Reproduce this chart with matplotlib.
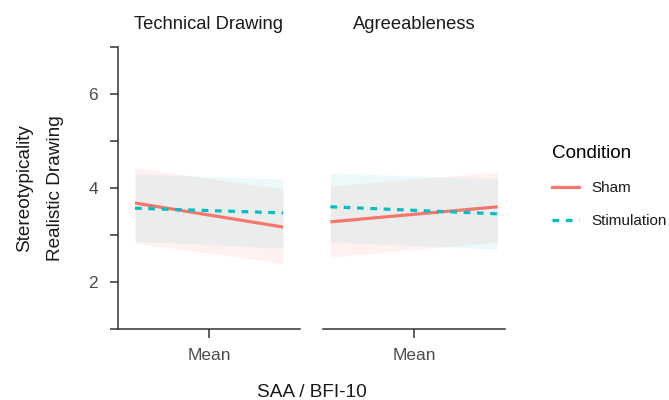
import matplotlib.pyplot as plt
from matplotlib.lines import Line2D

plt.rcParams['font.family'] = ['Liberation Sans', 'DejaVu Sans']
plt.rcParams['lines.scale_dashes'] = False

# facets and conditions
panels = ['Technical Drawing', 'Agreeableness']
conditions = ['Sham', 'Stimulation']
colors = ['#F8766D', '#00BFC4']

# x span of the fitted lines per panel (mean -/+ spread)
x_span = [[-1.0, 1.0], [-1.13, 1.13]]

# fitted values and confidence bands, [panel][left, right]
sham_fit = [[3.68, 3.17], [3.28, 3.60]]
sham_low = [[2.83, 2.40], [2.53, 2.85]]
sham_high = [[4.43, 3.98], [4.04, 4.34]]
stim_fit = [[3.57, 3.47], [3.60, 3.45]]
stim_low = [[2.87, 2.72], [2.85, 2.70]]
stim_high = [[4.30, 4.19], [4.32, 4.19]]

y_ticks = [1, 2, 3, 4, 5, 6, 7]
y_labels = ['', '2', '', '4', '', '6', '']

fig = plt.figure(figsize=(6.69, 4), dpi=100)
W, H = 669, 400
lefts = [118, 323]
axes = [fig.add_axes([l / W, 71 / H, 182 / W, 282 / H]) for l in lefts]

ink = '#333333'
for i, ax in enumerate(axes):
    xs = x_span[i]
    ax.fill_between(xs, sham_low[i], sham_high[i], color=colors[0], alpha=0.1, lw=0)
    ax.fill_between(xs, stim_low[i], stim_high[i], color=colors[1], alpha=0.08, lw=0)
    ax.plot(xs, sham_fit[i], color=colors[0], lw=2.3, solid_capstyle='butt')
    ax.plot(xs, stim_fit[i], color=colors[1], lw=2.3, dashes=(4.8, 4.8))

    ax.set_xlim(-1.23, 1.23)
    ax.set_ylim(1, 7)
    ax.set_xticks([0])
    ax.set_xticklabels(['Mean'])
    ax.tick_params(axis='x', length=6.5, width=1.1, color=ink, pad=7,
                   labelsize=12.5, labelcolor='#4d4d4d')
    for s in ['top', 'right']:
        ax.spines[s].set_visible(False)
    ax.spines['bottom'].set_color(ink)
    ax.spines['bottom'].set_linewidth(1.1)
    ax.set_facecolor('none')
    ax.text(0.5, 1.064, panels[i], transform=ax.transAxes, ha='center',
            va='baseline', fontsize=13.2, color='#1a1a1a')

axes[0].set_yticks(y_ticks)
axes[0].set_yticklabels(y_labels)
axes[0].tick_params(axis='y', length=5.8, width=1.1, color=ink, pad=8.6,
                    labelsize=12.5, labelcolor='#4d4d4d')
axes[0].spines['left'].set_color(ink)
axes[0].spines['left'].set_linewidth(1.1)
axes[1].spines['left'].set_visible(False)
axes[1].set_yticks([])

fig.text(311.5 / W, 1 - 397 / H, 'SAA / BFI-10', ha='center', va='baseline',
         fontsize=13.7, color='#1a1a1a')
fig.text(40 / W, 0.53, 'Stereotypicality\nRealistic Drawing', rotation=90,
         ha='center', va='center', multialignment='center', linespacing=2.1,
         fontsize=13.7, color='#1a1a1a')

handles = [Line2D([], [], color=colors[0], lw=2.3),
           Line2D([], [], color=colors[1], lw=2.3, dashes=(4.8, 4.8))]
leg = fig.legend(handles, conditions, title='Condition', loc='upper left',
                 bbox_to_anchor=(552 / W, 1 - 145 / H), frameon=False,
                 fontsize=11, title_fontsize=13.6, handlelength=1.77,
                 handletextpad=0.79, labelspacing=1.25, borderpad=0,
                 borderaxespad=0, alignment='left')
leg._legend_handle_box.sep = 12
for t in leg.get_texts():
    t.set_color('#1a1a1a')

fig.savefig('out.png', dpi=100)
